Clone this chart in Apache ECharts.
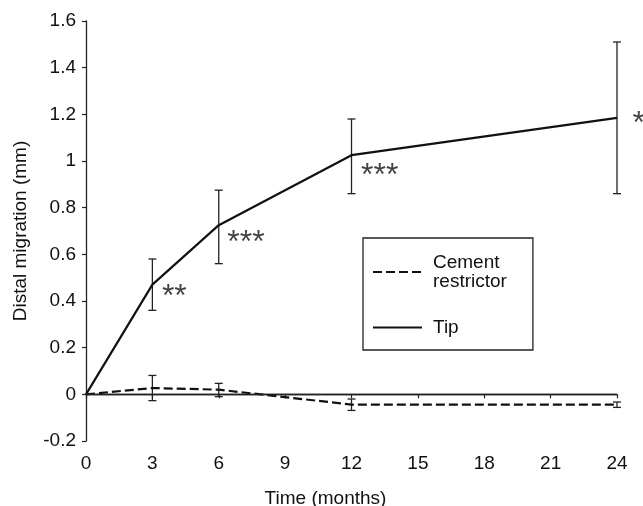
<!DOCTYPE html>
<html>
<head>
<meta charset="utf-8">
<script src="https://cdn.jsdelivr.net/npm/echarts@6/dist/echarts.min.js"></script>
<style>html,body{margin:0;padding:0;background:#fff}#c{width:643px;height:506px}</style>
</head>
<body>
<div id="c"></div>
<script>
const months = [0, 3, 6, 12, 24];
const tipMean = [0, 0.47, 0.725, 1.025, 1.185];
const tipLow = [0, 0.36, 0.56, 0.86, 0.86];
const tipHigh = [0, 0.58, 0.875, 1.18, 1.51];
const cemMean = [0, 0.027, 0.02, -0.044, -0.044];
const cemLow = [0, -0.027, -0.01, -0.069, -0.056];
const cemHigh = [0, 0.081, 0.047, -0.02, -0.033];
const sigLabels = ['', '**', '***', '***', '*'];
const xTicks = [0, 3, 6, 9, 12, 15, 18, 21, 24];
const yTicks = [-0.2, 0, 0.2, 0.4, 0.6, 0.8, 1, 1.2, 1.4, 1.6];

const FONT = 'Liberation Sans, Arial, sans-serif';
const chart = echarts.init(document.getElementById('c'));

function errData(low, high) {
  return months.map((m, i) => [m, low[i], high[i]]).filter((d, i) => i > 0);
}
function errRender(params, api) {
  const x = api.value(0);
  const lo = api.coord([x, api.value(1)]);
  const hi = api.coord([x, api.value(2)]);
  const w = 4;
  const st = { stroke: '#222', lineWidth: 1.3, fill: null };
  return {
    type: 'group',
    children: [
      { type: 'line', shape: { x1: lo[0], y1: lo[1], x2: hi[0], y2: hi[1] }, style: st },
      { type: 'line', shape: { x1: lo[0] - w, y1: lo[1], x2: lo[0] + w, y2: lo[1] }, style: st },
      { type: 'line', shape: { x1: hi[0] - w, y1: hi[1], x2: hi[0] + w, y2: hi[1] }, style: st }
    ]
  };
}
const starOffsets = [[0, 0], [9, 13], [8, 18], [9, 21], [15, 6]];

chart.setOption({
  animation: false,
  textStyle: { fontFamily: FONT },
  grid: { left: 86, right: 26, top: 21, bottom: 65, containLabel: false, outerBoundsMode: 'none' },
  xAxis: {
    type: 'value', min: xTicks[0], max: xTicks[xTicks.length - 1], interval: 3,
    name: 'Time (months)', nameLocation: 'middle', nameGap: 48,
    nameTextStyle: { fontSize: 19, color: '#111', fontFamily: FONT, padding: [0, 52, 0, 0] },
    axisLine: { lineStyle: { color: '#222', width: 1.3 } },
    axisTick: { length: 4, lineStyle: { color: '#222', width: 1.2 } },
    axisLabel: { fontSize: 19, color: '#111', margin: 13, fontFamily: FONT },
    splitLine: { show: false }
  },
  yAxis: {
    type: 'value', min: yTicks[0], max: yTicks[yTicks.length - 1], interval: 0.2,
    name: 'Distal migration (mm)', nameLocation: 'middle', nameGap: 56,
    nameTextStyle: { fontSize: 19, color: '#111', fontFamily: FONT },
    axisLine: { show: true, lineStyle: { color: '#222', width: 1.3 } },
    axisTick: { show: true, length: 4, lineStyle: { color: '#222', width: 1.2 } },
    axisLabel: {
      fontSize: 19, color: '#111', margin: 10, fontFamily: FONT,
      formatter: v => String(Math.round(v * 10) / 10)
    },
    splitLine: { show: false }
  },
  legend: {
    left: 363, top: 238, orient: 'vertical',
    data: ['Cement restrictor', 'Tip'],
    formatter: n => n === 'Cement restrictor' ? 'Cement\nrestrictor' : n,
    borderColor: '#222', borderWidth: 1.3, borderRadius: 0,
    padding: [15, 26, 13, 9], itemGap: 27,
    itemWidth: 49, itemHeight: 14,
    itemStyle: { opacity: 0 },
    textStyle: { fontSize: 19, color: '#111', lineHeight: 19, padding: [0, 0, 0, 6], fontFamily: FONT },
    selectedMode: false
  },
  series: [
    {
      name: 'Tip', type: 'line', data: months.map((m, i) => [m, tipMean[i]]),
      symbol: 'none', lineStyle: { color: '#111', width: 2.2 }, itemStyle: { color: '#111' },
      markLine: {
        silent: true, symbol: 'none', label: { show: false },
        lineStyle: { color: '#222', width: 1.3, type: 'solid' },
        data: [{ yAxis: 0 }]
      },
      z: 3
    },
    {
      name: 'Cement restrictor', type: 'line', data: months.map((m, i) => [m, cemMean[i]]),
      symbol: 'none', lineStyle: { color: '#111', width: 2.2, type: [9, 4] }, itemStyle: { color: '#111' },
      z: 3
    },
    { name: 'tipErr', type: 'custom', renderItem: errRender, data: errData(tipLow, tipHigh), z: 2 },
    { name: 'cemErr', type: 'custom', renderItem: errRender, data: errData(cemLow, cemHigh), z: 2 },
    {
      name: 'sig', type: 'scatter', symbolSize: 1, itemStyle: { color: 'rgba(0,0,0,0)' },
      data: months.map((m, i) => ({
        value: [m, tipMean[i]],
        label: { show: sigLabels[i] !== '', formatter: sigLabels[i], position: 'right', distance: 0, offset: starOffsets[i] }
      })),
      label: { fontSize: 32, color: '#111', fontFamily: FONT },
      z: 4
    }
  ]
});
</script>
</body>
</html>
